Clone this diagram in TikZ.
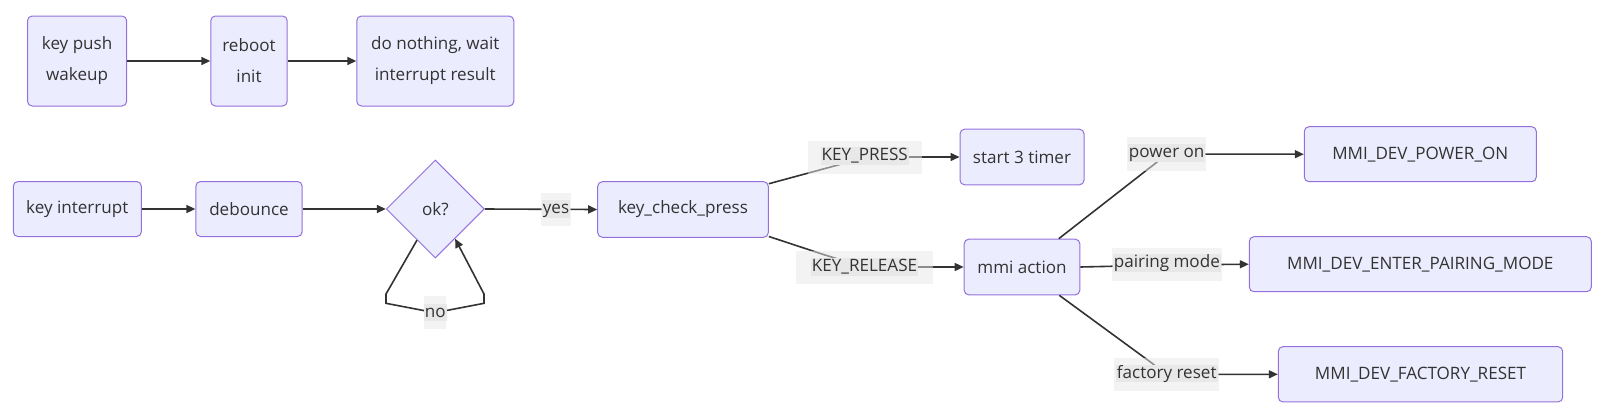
\documentclass[tikz,border=0pt]{standalone}
\usepackage{fontspec}
\setmainfont{Open Sans}
\usetikzlibrary{shapes.geometric,arrows.meta,calc}
\definecolor{nfill}{HTML}{ECECFF}
\definecolor{nborder}{HTML}{9370DB}
\definecolor{ink}{HTML}{333333}
\definecolor{lblo}{HTML}{E8E8E8}
\definecolor{lbli}{HTML}{E8E8E8}
\begin{document}
\begin{tikzpicture}[x=0.75pt,y=-0.75pt,
  font=\fontsize{12.8}{15}\selectfont, text=ink,
  box/.style={draw=nborder, fill=nfill, line width=0.75pt, rounded corners=3.5pt, inner sep=0pt, align=center},
  sz/.style 2 args={minimum width={#1*0.75pt}, minimum height={#2*0.75pt}},
  two/.style={font=\fontsize{12.8}{23.25}\selectfont},
  arr/.style={draw=ink, line width=1.2pt, -{Triangle[length=6.75pt,width=6pt]}},
  lout/.style={fill=lblo, fill opacity=0.5, draw=none, inner sep=0pt},
  lin/.style={fill=lbli, inner sep=0pt, inner xsep=0.75pt, text height=10pt, text depth=3pt}]
\useasboundingbox (0,0) rectangle (1608,415);

% top row
\node[box,two,sz={99.2}{90}] (kp) at (77.1,61) {key push\\wakeup};
\node[box,two,sz={76.4}{90}] (rb) at (249,61) {reboot\\init};
\node[box,two,sz={157}{90}] (dn) at (435.3,61) {do nothing, wait\\interrupt result};
\draw[arr] (kp) -- (rb);
\draw[arr] (rb) -- (dn);

% main flow
\node[box,sz={128}{55}] (ki) at (77.3,209) {key interrupt};
\node[box,sz={106.3}{55}] (db) at (249,209) {debounce};
\node[diamond, draw=nborder, fill=nfill, line width=0.75pt, inner sep=0pt,
      minimum width=73.5pt, minimum height=73.5pt] (ok) at (435.3,209) {ok?};
\node[box,sz={170.6}{55.6}] (kcp) at (683,209.5) {key\_check\_press};
\node[box,sz={124}{55.7}] (st) at (1022,157) {start 3 timer};
\node[box,sz={115.7}{55.7}] (mmi) at (1022,267) {mmi action};
\node[box,sz={232}{55}] (po) at (1420.3,154.2) {MMI\_DEV\_POWER\_ON};
\node[box,sz={342}{55}] (pm) at (1420.3,264.2) {MMI\_DEV\_ENTER\_PAIRING\_MODE};
\node[box,sz={284.4}{55.3}] (fr) at (1420.5,374.3) {MMI\_DEV\_FACTORY\_RESET};

% connectors
\draw[arr] (ki) -- (db);
\draw[arr] (db) -- (ok);
\draw[arr] (ok.east) -- (kcp.west);
\draw[arr] ($(ok.west)!0.63!(ok.south)$) -- (386,294) -- (386,303.3) -- (435,312.7)
   -- (484,303.3) -- (484,294) -- ($(ok.east)!0.6!(ok.south)$);
\draw[arr] ([yshift=-1.9pt]kcp.north east) -- (838,165) -- (864,157) -- (st.west);
\draw[arr] ([yshift=1pt]kcp.south east) -- (825,255) -- (864,267) -- (mmi.west);
\draw[arr] ([xshift=27.6pt]mmi.north) -- (1156.7,162.3) -- (1166.7,154) -- (po.west);
\draw[arr] (mmi.east) -- (1166.8,265) -- (pm.west);
\draw[arr] ([xshift=28pt]mmi.south) -- (1150,361.7) -- (1166.7,374.5) -- (fr.west);

% edge labels
\node[lout,sz={30}{33}] at (556,209) {};
\node[lin] (lyes) at (556,209) {yes};
\node[lout,sz={22}{33}] at (435.2,312.7) {};
\node[lin] (lno) at (435.2,312.7) {no};
\node[lout,sz={114}{33}] at (864.7,157) {};
\node[lin] (lkp) at (864.7,156) {KEY\_PRESS};
\node[lout,sz={137.6}{33}] at (864.5,267.5) {};
\node[lin] (lkr) at (864.5,267) {KEY\_RELEASE};
\node[lout,sz={78.7}{33.4}] at (1166.7,154) {};
\node[lin] (lpo) at (1166.7,153) {power on};
\node[lout,sz={110.3}{33}] at (1166.8,264.2) {};
\node[lin] (lpm) at (1166.8,263) {pairing mode};
\node[lout,sz={105.3}{32.7}] at (1166.7,374.7) {};
\node[lin] (lfr) at (1166.7,373.5) {factory reset};
\end{tikzpicture}
\end{document}
